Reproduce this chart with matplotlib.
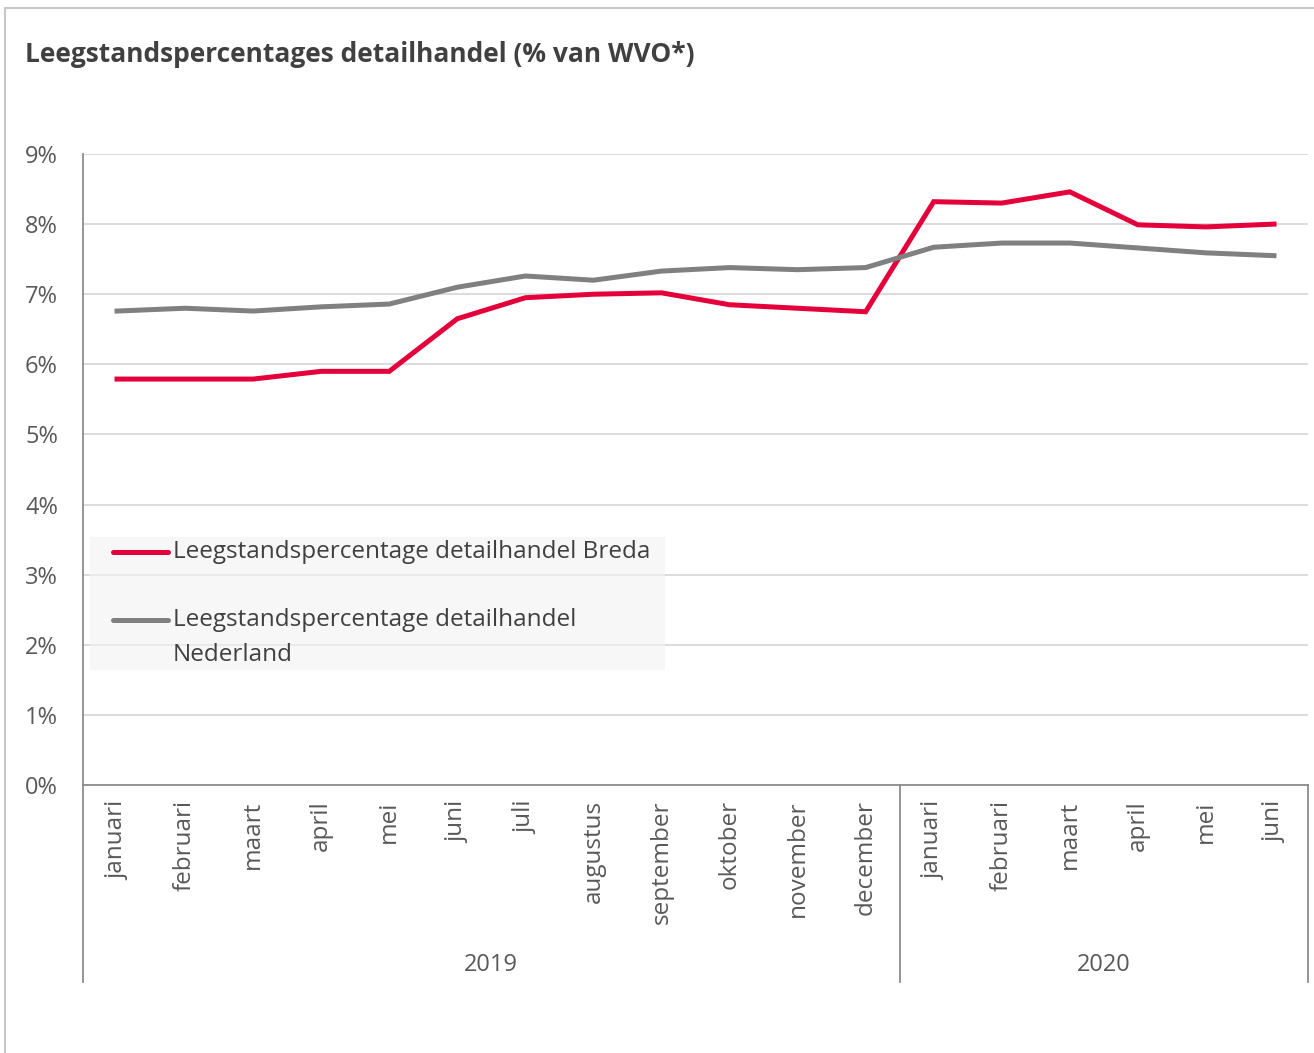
import matplotlib.pyplot as plt
from matplotlib.patches import Rectangle
from matplotlib.lines import Line2D

plt.rcParams['font.family'] = ['Open Sans', 'DejaVu Sans']

months = ['januari', 'februari', 'maart', 'april', 'mei', 'juni', 'juli', 'augustus',
          'september', 'oktober', 'november', 'december',
          'januari', 'februari', 'maart', 'april', 'mei', 'juni']
years = ['2019', '2020']
year_counts = [12, 6]

breda = [5.79, 5.79, 5.79, 5.90, 5.90, 6.65, 6.95, 7.00, 7.02, 6.85, 6.80, 6.75,
         8.32, 8.30, 8.46, 7.99, 7.96, 8.00]
nederland = [6.76, 6.80, 6.76, 6.82, 6.86, 7.10, 7.26, 7.20, 7.33, 7.38, 7.35, 7.38,
             7.67, 7.73, 7.73, 7.66, 7.59, 7.55]
labels = [['Leegstandspercentage detailhandel Breda'],
          ['Leegstandspercentage detailhandel', 'Nederland']]

red = '#E4003A'
grey = '#808080'
txt = '#595959'

fig = plt.figure(figsize=(13.14, 10.53), dpi=100)
ax = fig.add_axes([83/1314, 1-785/1053, 1225/1314, 631/1053])

x = list(range(len(months)))
ax.plot(x, breda, color=red, lw=3.6, solid_joinstyle='miter', zorder=3)
ax.plot(x, nederland, color=grey, lw=3.6, solid_joinstyle='miter', zorder=3)

ax.set_xlim(-0.5, len(months) - 0.5)
ax.set_ylim(0, 9)
ax.set_yticks(range(10))
ax.set_yticklabels([f'{v}%' for v in range(10)], fontsize=17, color=txt)
ax.tick_params(axis='y', length=0, pad=18)
ax.grid(axis='y', color='#d9d9d9', lw=1.3)
ax.set_axisbelow(True)
for s in ['top', 'right']:
    ax.spines[s].set_visible(False)
ax.spines['left'].set_color('#8c8c8c')
ax.spines['bottom'].set_color('#8c8c8c')
ax.spines['left'].set_linewidth(1.3)
ax.spines['bottom'].set_linewidth(1.3)

ax.set_xticks(x)
ax.set_xticklabels(months, rotation=90, fontsize=17.5, color=txt, va='top')
ax.tick_params(axis='x', length=0, pad=11)

# year groups below the months
bottom = -(982 - 785) / 631
start = 0
for yr, n in zip(years, year_counts):
    ax.plot([start - 0.5, start - 0.5], [0, bottom], color='#8c8c8c', lw=1.3,
            transform=ax.get_xaxis_transform(), clip_on=False)
    ax.text(start - 0.5 + n / 2, -(965 - 785) / 631, yr, ha='center', va='center',
            fontsize=17, color=txt, transform=ax.get_xaxis_transform())
    start += n
ax.plot([start - 0.5, start - 0.5], [0, bottom], color='#8c8c8c', lw=1.3,
        transform=ax.get_xaxis_transform(), clip_on=False)

# legend box
ax.add_patch(Rectangle((7/1225, (785-670)/631), 575/1225, 133/631, transform=ax.transAxes,
                       facecolor='#f2f2f2', alpha=0.6, edgecolor='none', zorder=4))
for col, lines, ypx in zip([red, grey], labels, [552, 620]):
    yy = (785 - ypx) / 631
    ax.add_line(Line2D([30/1225, 85/1225], [yy, yy], color=col, lw=3.6,
                       solid_capstyle='round', transform=ax.transAxes, zorder=5))
    for i, line in enumerate(lines):
        ax.text(90/1225, yy - i * 35/631, line, transform=ax.transAxes, ha='left',
                va='center', fontsize=17.5, color='#404040', zorder=5)

# title and outer frame
fig.text(25/1314, 1-55/1053, 'Leegstandspercentages detailhandel (% van WVO*)',
         fontsize=19, fontweight='bold', color='#404040', ha='left', va='center')
fig.add_artist(Line2D([5/1314, 1], [1-8/1053, 1-8/1053], color='#c8c8c8', lw=1.5))
fig.add_artist(Line2D([5/1314, 5/1314], [0, 1-8/1053], color='#c8c8c8', lw=1.5))

fig.savefig('out.png', dpi=100)
